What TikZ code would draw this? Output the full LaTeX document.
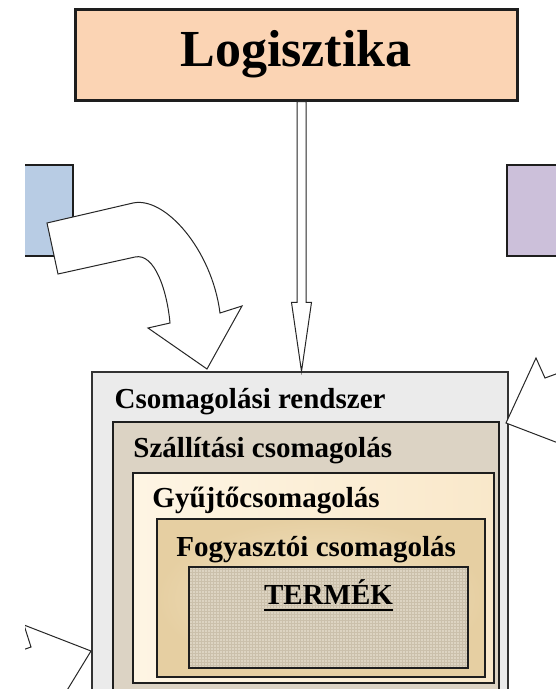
\documentclass[tikz,border=0pt]{standalone}
\usepackage{fontspec}
\setmainfont{Liberation Serif}
\usetikzlibrary{calc,patterns}
\definecolor{logifill}{HTML}{FBD4B4}
\definecolor{bluefill}{HTML}{B8CCE4}
\definecolor{purplefill}{HTML}{CCC0DA}
\definecolor{outerfill}{HTML}{EBEBEB}
\definecolor{szallfill}{HTML}{DCD3C4}
\definecolor{gyujtoL}{HTML}{FEF5E4}
\definecolor{gyujtoR}{HTML}{F9E8CA}
\definecolor{fogyIn}{HTML}{F4E6C9}
\definecolor{fogyOut}{HTML}{E6CFA2}
\definecolor{termfill}{HTML}{DDD4C2}
\definecolor{termgrid}{HTML}{CBC0AB}
\definecolor{edge}{HTML}{1E1E1E}
\begin{document}
\begin{tikzpicture}[x=1pt,y=-1pt,
  box/.style={draw=edge, line width=1.5pt, rectangle, inner sep=0pt},
  lbl/.style={font=\bfseries\fontsize{29}{29}\selectfont, inner sep=0pt, anchor=base west},
  blockarrow/.style={draw=black!85, fill=white, line width=1pt, line join=miter}]
\useasboundingbox (0,0) rectangle (556,689);
\fill[white] (0,0) rectangle (556,689);
\begin{scope}
\clip (25,0) rectangle (556,689);
% nested packaging boxes
\node[box, fill=outerfill, draw=black!80, line width=1.2pt, minimum width=416pt, minimum height=348pt] (outer) at (300,546) {};
\node[box, fill=szallfill, minimum width=386pt, minimum height=298pt] (szall) at (306,571) {};
\node[box, left color=gyujtoL, right color=gyujtoR, minimum width=361pt, minimum height=210pt] (gyujto) at (313.5,578) {};
\node[box, inner color=fogyIn, outer color=fogyOut, minimum width=328pt, minimum height=158pt] (fogy) at (321,598) {};
\node[box, preaction={fill=termfill}, pattern=grid, pattern color=termgrid, minimum width=279pt, minimum height=101pt] (termek) at (328.5,617.5) {};
% labels
\node[lbl] (tOuter) at ($(outer.north west)+(23,37)$) {Csomagolási rendszer};
\node[lbl] (tSzall) at ($(szall.north west)+(21,36)$) {Szállítási csomagolás};
\node[lbl] (tGyujto) at ($(gyujto.north west)+(20,35)$) {Gyűjtőcsomagolás};
\node[lbl] (tFogy) at ($(fogy.north west)+(20,38)$) {Fogyasztói csomagolás};
\node[lbl, anchor=base] (tTerm) at ($(termek.north)+(0,38)$) {TERMÉK};
\draw[line width=2pt] ($(tTerm.base west)+(0,6)$) -- ($(tTerm.base east)+(0,6)$);
% top box
\node[box, fill=logifill, line width=3pt, minimum width=442pt, minimum height=91pt,
      font=\bfseries\fontsize{52}{52}\selectfont] (logi) at (296,54.5) {Logisztika};
% side boxes
\node[box, fill=bluefill, line width=2.5pt, minimum width=53pt, minimum height=91pt] (bluebox) at (46.5,210.5) {};
\node[box, fill=purplefill, line width=2.5pt, minimum width=83pt, minimum height=91pt] (purplebox) at (548.5,210.5) {};
% thin arrow from Logisztika to the system
\coordinate (ta) at ($(logi.south)+(5.5,0)$);
\coordinate (tb) at (ta |- outer.north);
\draw[blockarrow] ($(ta)+(-4.5,0)$) -- ($(tb)+(-4.5,-69)$) -- ($(tb)+(-10,-69)$) -- (tb)
  -- ($(tb)+(10,-69)$) -- ($(tb)+(4.5,-69)$) -- ($(ta)+(4.5,0)$) -- cycle;
% curved arrow from the blue box
\coordinate (ctip) at (207,369);
\draw[blockarrow] (47,223) -- (133,203) .. controls (165,196) and (212,250) .. (220,313)
  -- (242,306) -- (ctip) -- (148,328) -- (170,323)
  .. controls (167,290) and (154.5,252.7) .. (135,257) -- (58,274) -- cycle;
% arrow from the right
\coordinate (rtip) at (506,423);
\draw[blockarrow] (rtip) -- (536,358) -- (545,378) -- (600,358) -- (600,459) -- cycle;
% arrow from the bottom left
\coordinate (ltip) at (91,651);
\draw[blockarrow] (ltip) -- (24,625) -- (31,647) -- (-20,665) -- (55,710) -- cycle;
\end{scope}
\end{tikzpicture}
\end{document}
